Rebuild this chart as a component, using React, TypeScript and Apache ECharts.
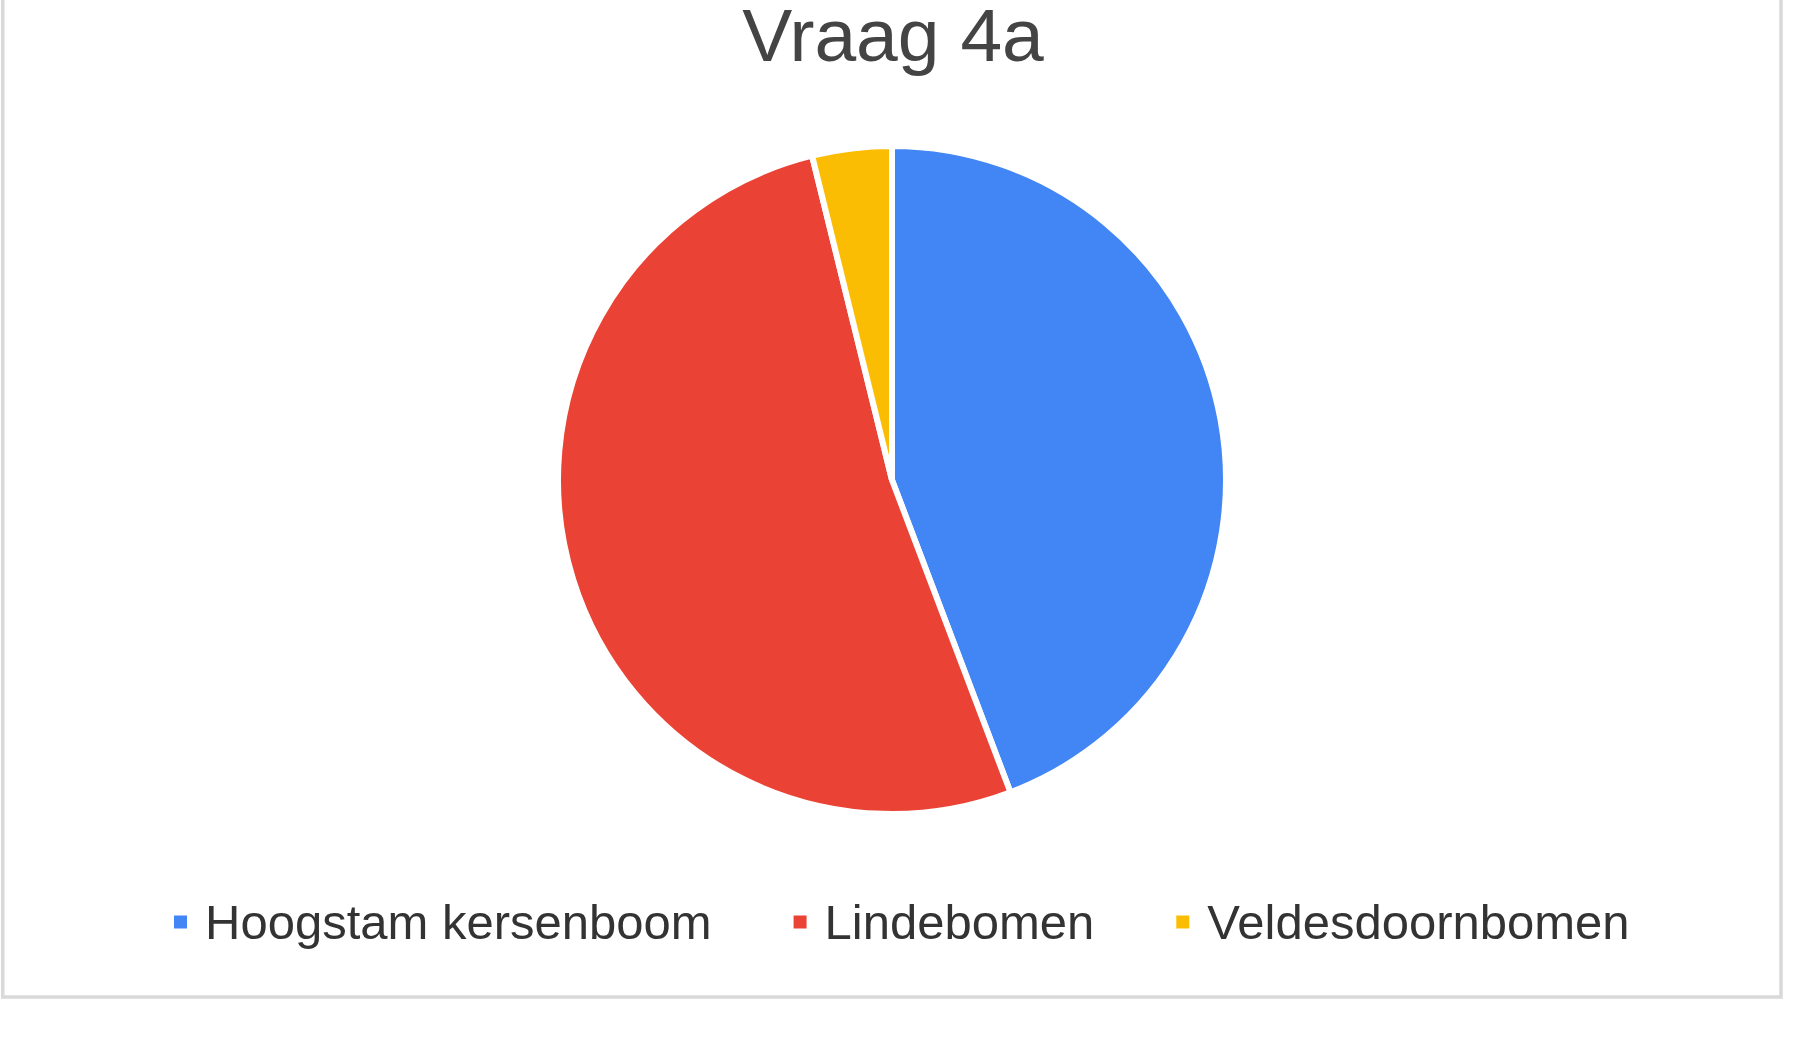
import React, { useEffect, useRef } from "react";
import * as echarts from "echarts";

// Survey answers for question 4a
const categories = ["Hoogstam kersenboom", "Lindebomen", "Veldesdoornbomen"];
const counts = [23, 27, 2];
const colors = ["#4285F4", "#EA4335", "#FBBC04"];
const chartTitle = "Vraag 4a";

export default function App() {
  const ref = useRef<HTMLDivElement>(null);

  useEffect(() => {
    if (!ref.current) return;
    const chart = echarts.init(ref.current, undefined, { renderer: "svg" });
    const font = "'Liberation Sans', Arial, sans-serif";

    chart.setOption({
      animation: false,
      backgroundColor: "#ffffff",
      color: colors,
      graphic: [
        {
          type: "rect",
          shape: { x: 2.8, y: -20, width: 1778.2, height: 1017 },
          style: { fill: "none", stroke: "#d9d9d9", lineWidth: 3.5 },
          silent: true,
        },
        {
          type: "text",
          x: 893,
          y: 35,
          style: {
            text: chartTitle,
            font: `75px ${font}`,
            fill: "#444444",
            align: "center",
            verticalAlign: "middle",
          },
          silent: true,
        },
      ],
      legend: {
        left: 172,
        top: 897,
        padding: 0,
        orient: "horizontal",
        icon: "rect",
        itemWidth: 15,
        itemHeight: 15,
        itemGap: 80,
        selectedMode: false,
        data: categories,
        textStyle: {
          fontFamily: font,
          fontSize: 49,
          lineHeight: 50,
          color: "#333333",
          padding: [0, 0, 0, 12],
        },
      },
      series: [
        {
          type: "pie",
          center: [892, 480],
          radius: 334,
          startAngle: 90,
          clockwise: true,
          label: { show: false },
          labelLine: { show: false },
          emphasis: { disabled: true },
          itemStyle: { borderColor: "#ffffff", borderWidth: 6 },
          data: categories.map((name, i) => ({ name, value: counts[i] })),
        },
      ],
    });

    return () => chart.dispose();
  }, []);

  return (
    <div
      ref={ref}
      style={{ position: "fixed", left: 0, top: 0, width: 1800, height: 1050 }}
    />
  );
}
